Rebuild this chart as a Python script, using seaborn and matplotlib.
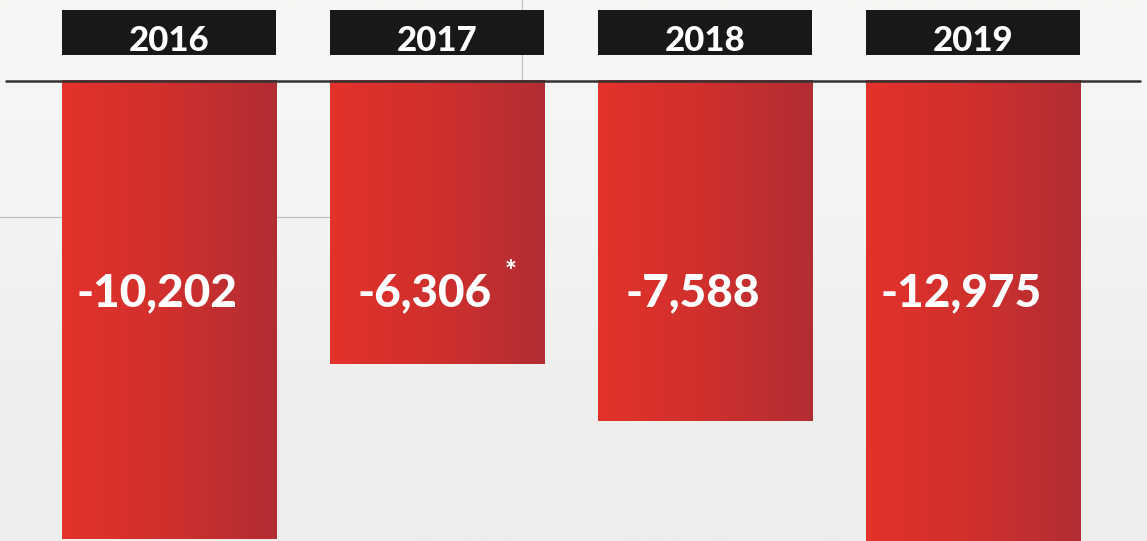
import numpy as np
import pandas as pd
import matplotlib
matplotlib.use("Agg")
import matplotlib.pyplot as plt
import seaborn as sns
from matplotlib.colors import LinearSegmentedColormap
from matplotlib.patches import Rectangle
from matplotlib.lines import Line2D
import matplotlib.transforms as mtransforms

# ---- data ----
years = ["2016", "2017", "2018", "2019"]
values = [-10202, -6306, -7588, -12975]
notes = ["", "*", "", ""]

sns.set_style("white")
plt.rcParams["font.family"] = ["Lato", "DejaVu Sans"]

W, H = 1147, 541
fig = plt.figure(figsize=(W / 100, H / 100), dpi=100)
fig.patch.set_facecolor("#F4F4F2")

# background vertical gradient
bg = fig.add_axes([0, 0, 1, 1], zorder=-10)
grad = np.linspace(0, 1, 256).reshape(-1, 1)
bg_cmap = LinearSegmentedColormap.from_list("bg", ["#F7F7F5", "#F4F4F2", "#EFEFEE", "#EDEDEC"])
bg.imshow(grad, aspect="auto", cmap=bg_cmap, extent=(0, 1, 0, 1), origin="upper")
bg.set_axis_off()

# faint guide lines behind the bars
fig.add_artist(Line2D([522 / W, 522 / W], [1, 1 - 215 / H], color="#BDBDBD", lw=0.8, zorder=0))
fig.add_artist(Line2D([0, 330 / W], [1 - 217 / H, 1 - 217 / H], color="#BDBDBD", lw=0.8, zorder=0))

ax = fig.add_axes([35 / W, 0, 1072 / W, 1])
ax.patch.set_alpha(0)

df = pd.DataFrame({"year": years, "value": values})
sns.barplot(data=df, x="year", y="value", order=years, color="#D0302D",
            saturation=1, width=0.8, ax=ax, linewidth=0)

px_per_unit = 0.045
top_units = 80 / px_per_unit
bot_units = (H - 80) / px_per_unit
ax.set_ylim(-bot_units, top_units)
ax.set_xlim(-0.5, len(years) - 0.5)
ax.set_axis_off()

# gradient fill clipped to bars
bar_cmap = LinearSegmentedColormap.from_list("bar", ["#E4322B", "#CF302D", "#B22D33"])
hgrad = np.linspace(0, 1, 256).reshape(1, -1)
for p in ax.patches:
    x0, y0 = p.get_x(), p.get_y()
    w, h = p.get_width(), p.get_height()
    im = ax.imshow(hgrad, aspect="auto", cmap=bar_cmap,
                   extent=(x0, x0 + w, y0, y0 + h), zorder=p.get_zorder() + 0.1)
    im.set_clip_path(p)
ax.set_xlim(-0.5, len(years) - 0.5)
ax.set_ylim(-bot_units, top_units)

# zero baseline spanning the figure
y0_fig = 1 - 81 / H
fig.add_artist(Line2D([6 / W, 1140 / W], [y0_fig, y0_fig], color="#333333", lw=1.8, zorder=5))

trans = mtransforms.blended_transform_factory(ax.transData, ax.transAxes)
for i, (yr, v, n) in enumerate(zip(years, values, notes)):
    # header box
    ax.add_patch(Rectangle((i - 0.4, 1 - 55 / H), 0.8, 45 / H, transform=trans,
                           facecolor="#181818", edgecolor="none", clip_on=False, zorder=6))
    ax.text(i, 1 - 41 / H, yr, transform=trans, ha="center", va="center",
            color="white", fontsize=25, fontweight="black", zorder=7)
    # value label
    ax.text(i - 0.045, 1 - 293 / H, f"{v:,}", transform=trans, ha="center", va="center",
            color="white", fontsize=33, fontweight="black", zorder=7)
    if n:
        ax.text(i + 0.276, 1 - 272 / H, n, transform=trans, ha="center", va="center",
                color="white", fontsize=20, fontweight="black", zorder=7)

fig.savefig("out.png", dpi=100, facecolor=fig.get_facecolor())
